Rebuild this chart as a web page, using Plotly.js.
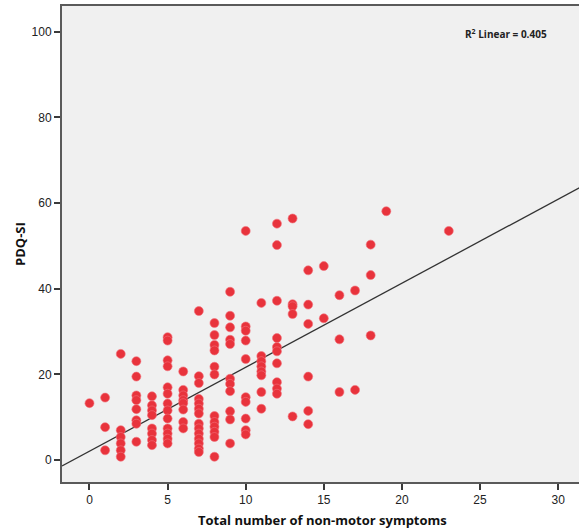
<!DOCTYPE html>
<html>
<head>
<meta charset="utf-8">
<script src="https://cdn.plot.ly/plotly-3.0.1.min.js"></script>
<style>
html,body{margin:0;padding:0;overflow:hidden;background:#fff;}
#chart{width:600px;height:532px;}
</style>
</head>
<body>
<div id="chart"></div>
<script>
// Non-motor symptom counts (x) and PDQ-SI scores (y)
const symptomCounts = [
  0,
  1,1,1,
  2,2,2,2,2,2,
  3,3,3,3,3,3,3,3,
  4,4,4,4,4,4,4,4,
  5,5,5,5,5,5,5,5,5,5,5,5,5,
  6,6,6,6,6,6,6,6,
  7,7,7,7,7,7,7,7,7,7,7,7,7,7,
  8,8,8,8,8,8,8,8,8,8,8,8,
  9,9,9,9,9,9,9,9,9,9,9,
  10,10,10,10,10,10,10,10,10,10,
  11,11,11,11,11,11,11,11,
  12,12,12,12,12,12,12,12,12,12,
  13,13,13,13,13,
  14,14,14,14,14,14,
  15,15,
  16,16,16,
  17,17,
  18,18,18,
  19,
  23
];
const pdqSI = [
  13.3,
  14.6,7.7,2.3,
  24.8,7.0,5.4,3.9,2.3,0.8,
  23.1,19.5,15.1,14.0,11.9,9.3,8.5,4.3,
  14.9,12.8,11.6,10.5,7.4,6.2,4.7,3.5,
  28.7,27.9,23.3,21.9,17.0,15.5,13.2,11.6,9.7,7.4,6.2,5.0,3.9,
  20.7,16.4,15.1,14.0,13.3,11.8,8.9,7.4,
  34.8,19.6,18.0,14.3,13.2,12.0,10.9,8.5,7.4,6.2,5.0,3.9,2.7,1.9,
  32.0,29.2,26.9,25.6,21.8,20.0,10.3,8.9,7.8,6.6,5.4,0.8,
  39.3,33.7,31.0,28.1,27.1,19.0,17.8,16.1,11.4,9.5,3.9,
  53.5,31.2,30.2,27.9,23.6,14.7,13.6,9.7,7.0,6.0,
  36.7,24.3,23.1,21.9,20.7,19.8,15.9,12.0,
  55.2,50.2,37.2,28.5,26.4,25.4,22.6,18.2,16.7,15.5,
  56.4,36.4,35.9,34.1,10.2,
  44.3,36.3,31.8,19.5,11.5,8.4,
  45.3,33.1,
  38.5,28.2,15.9,
  39.6,16.4,
  50.3,43.2,29.1,
  58.1,
  53.5
];
// Fit line as drawn in the reference
const fitIntercept = 2.1;
const fitSlope = 1.96;
const rSquaredLabel = "R<sup>2</sup> Linear = 0.405";
const xTickValues = [0,5,10,15,20,25,30];
const yTickValues = [0,20,40,60,80,100];
const xTitle = "Total number of non-motor symptoms";
const yTitle = "PDQ-SI";

const xRange = [-1.76, 32.68];
const yRange = [-5.1, 106];
const fitX = [xRange[0], xRange[1]];
const fitY = fitX.map(v => fitIntercept + fitSlope * v);

const traces = [
  {
    x: fitX, y: fitY, type: 'scatter', mode: 'lines',
    line: {color: '#333333', width: 1.3},
    hoverinfo: 'skip', showlegend: false
  },
  {
    x: symptomCounts, y: pdqSI, type: 'scatter', mode: 'markers',
    marker: {color: '#e8333c', size: 9, line: {color: '#f2707a', width: 0.6}},
    showlegend: false
  }
];

const axisCommon = {
  showline: true, mirror: true, linecolor: '#5a5a5a', linewidth: 2,
  ticks: 'outside', ticklen: 6, tickwidth: 2, tickcolor: '#3a3a3a',
  showgrid: false, zeroline: false,
  tickfont: {family: 'Liberation Sans, Arial, sans-serif', size: 12, color: '#222'}
};

const layout = {
  width: 600, height: 532,
  margin: {l: 62, r: 0, t: 6, b: 50},
  paper_bgcolor: '#ffffff',
  plot_bgcolor: '#f0f0f0',
  xaxis: Object.assign({}, axisCommon, {range: xRange, tickvals: xTickValues, ticktext: xTickValues.map(String)}),
  yaxis: Object.assign({}, axisCommon, {range: yRange, tickvals: yTickValues, ticktext: yTickValues.map(String)}),
  annotations: [
    {
      text: '<b>' + rSquaredLabel + '</b>', xref: 'x', yref: 'y', x: 23.9, y: 99.5,
      xanchor: 'left', yanchor: 'middle', showarrow: false,
      font: {family: 'Open Sans, sans-serif', size: 10, color: '#222'}
    },
    {
      text: '<b>' + xTitle + '</b>', xref: 'paper', yref: 'paper',
      x: (322 - 62) / 538, y: 0, yshift: -38, xanchor: 'center', yanchor: 'middle',
      showarrow: false,
      font: {family: 'Open Sans, sans-serif', size: 13, color: '#111'}
    },
    {
      text: '<b>' + yTitle + '</b>', xref: 'paper', yref: 'paper',
      x: 0, xshift: -42, y: 0.5, xanchor: 'center', yanchor: 'middle',
      textangle: -90, showarrow: false,
      font: {family: 'Open Sans, sans-serif', size: 13, color: '#111'}
    }
  ]
};

Plotly.newPlot('chart', traces, layout, {displayModeBar: false, staticPlot: true});
</script>
</body>
</html>
